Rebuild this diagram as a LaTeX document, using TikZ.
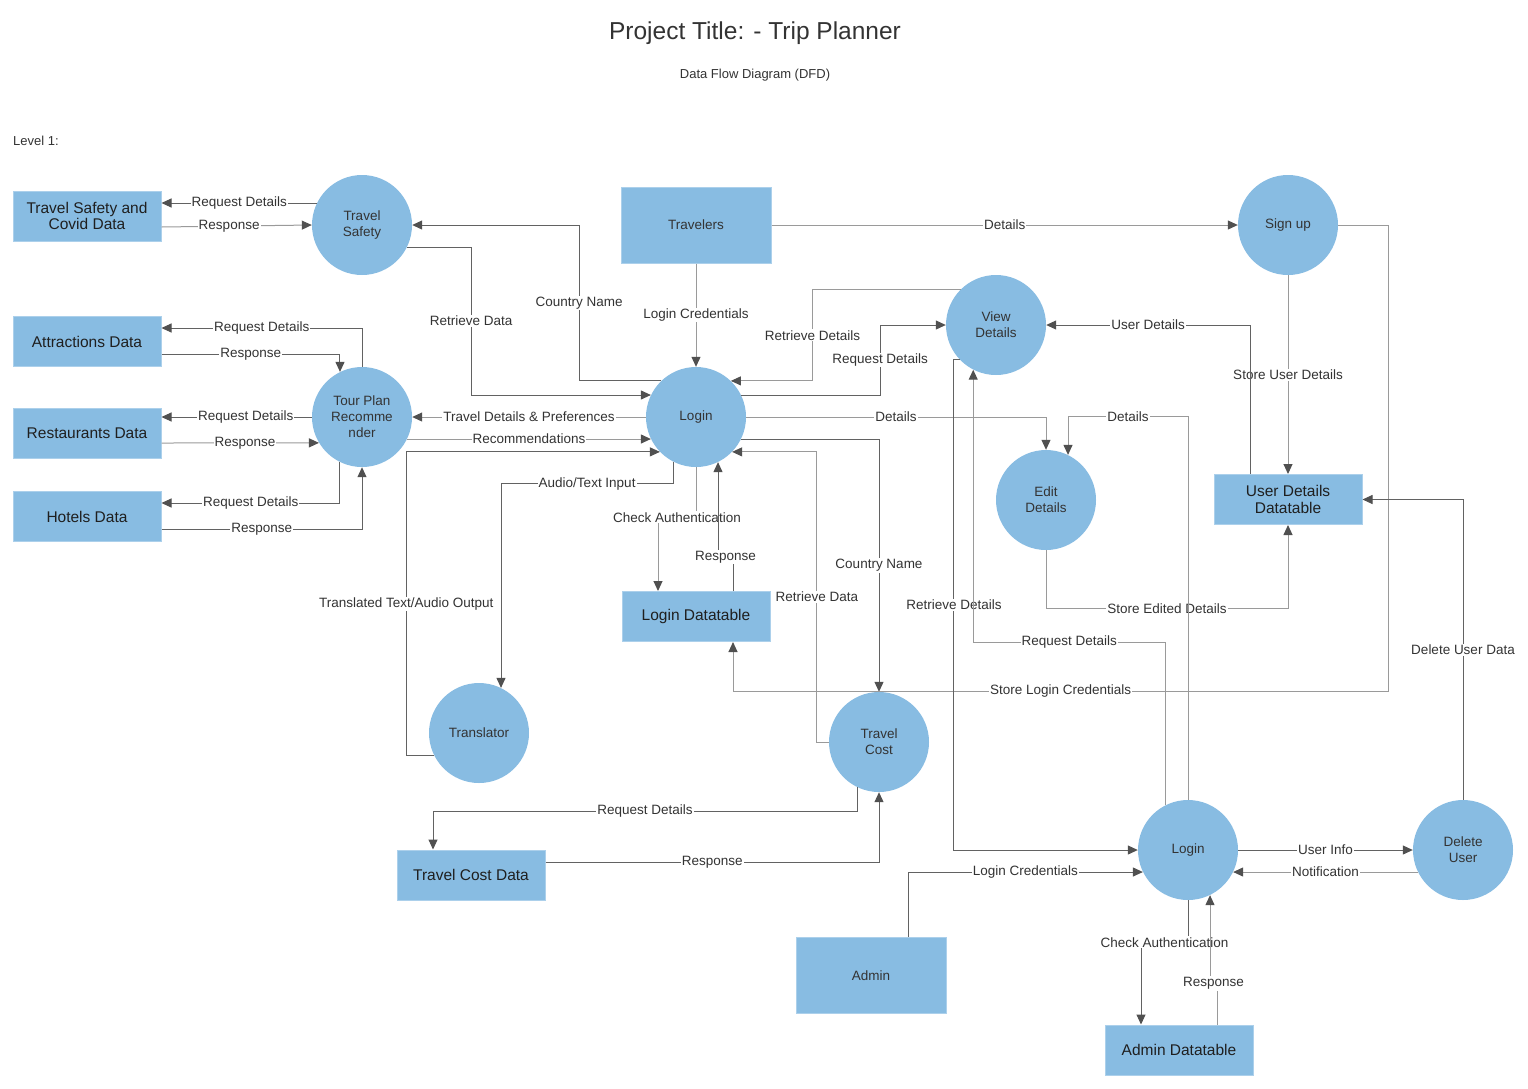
\documentclass[tikz,border=0pt]{standalone}
\usepackage{fontspec}
\setmainfont{Liberation Sans}
\usepackage{xcolor}
\usepackage{tikz}
\usetikzlibrary{positioning, arrows.meta, calc}

\definecolor{procblue}{HTML}{88BCE2}
\definecolor{edgedark}{HTML}{626262}
\definecolor{edgelight}{HTML}{9A9A9A}
\definecolor{tipgray}{HTML}{505050}
\definecolor{txtgray}{HTML}{333333}

\begin{document}
\begin{tikzpicture}[x=1pt, y=-1pt,
    proc/.style={fill=procblue, circle, minimum size=100pt, inner sep=0pt, align=center,
      text=txtgray, font=\fontsize{13.5}{16}\selectfont},
    store/.style={draw=procblue!70!white, line width=1pt, fill=procblue, minimum width=148pt,
      minimum height=50pt, inner sep=0pt, align=center, text=black!88, font=\fontsize{15.5}{16.5}\selectfont},
    entity/.style={draw=procblue!70!white, line width=1pt, fill=procblue, minimum width=150pt,
      minimum height=76pt, inner sep=0pt, text=txtgray, font=\fontsize{13.5}{16}\selectfont},
    lbl/.style={fill=white, inner sep=1pt, text=txtgray, font=\fontsize{13.5}{15}\selectfont},
    flow/.style={draw=edgedark, line width=1pt, -{Triangle[length=10pt, width=9pt, color=tipgray]}},
    flowlt/.style={flow, draw=edgelight}]

  \useasboundingbox (0,0) rectangle (1528,1088);

  \node[text=txtgray, font=\fontsize{24.5}{28}\selectfont] (title) at (755,33) {Project Title: - Trip Planner};
  \node[text=txtgray, font=\fontsize{13}{15}\selectfont] (subtitle) at (755,75) {Data Flow Diagram (DFD)};
  \node[anchor=west, inner sep=0pt, text=txtgray, font=\fontsize{13}{15}\selectfont] (level) at (13,141) {Level 1:};

  % data stores and entities
  \node[store] (tsdata) at (87,216) {Travel Safety and\\Covid Data};
  \node[store] (attr) at (87,341.5) {Attractions Data};
  \node[store] (rest) at (87,433) {Restaurants Data};
  \node[store] (hotels) at (87,516.5) {Hotels Data};
  \node[entity] (travelers) at (696,225) {Travelers};
  \node[store] (ldt) at (696,616.5) {Login Datatable};
  \node[store] (tcd) at (471,875) {Travel Cost Data};
  \node[store] (udd) at (1288,499.5) {User Details\\Datatable};
  \node[entity] (admin) at (871,975.5) {Admin};
  \node[store] (adt) at (1179,1050) {Admin Datatable};

  % processes
  \node[proc] (tsafe) at (362,225) {Travel\\Safety};
  \node[proc] (tour) at (362,417) {Tour Plan\\Recomme\\nder};
  \node[proc] (login) at (696,417) {Login};
  \node[proc] (signup) at (1288,225) {Sign up};
  \node[proc] (vd) at (996,325) {View\\Details};
  \node[proc] (edit) at (1046,500) {Edit\\Details};
  \node[proc] (trans) at (479,733) {Translator};
  \node[proc] (tcost) at (879,742) {Travel\\Cost};
  \node[proc] (alogin) at (1188,850) {Login};
  \node[proc] (deluser) at (1463,850) {Delete\\User};

  % left side data stores
  \draw[flow] (tsafe.154) -- node[lbl] {Request Details} (tsafe.154 -| tsdata.east);
  \draw[flowlt] ([yshift=-11pt]tsdata.east) -- node[lbl, pos=0.45] {Response} (tsafe.west);
  \draw[flow] (tour.north) |- node[lbl, pos=0.75] {Request Details} ([yshift=13.5pt]attr.east);
  \draw[flow] ([yshift=-12.5pt]attr.east) -| node[lbl, pos=0.25] {Response} (tour.116);
  \draw[flow] (tour.west) -- node[lbl, pos=0.44] {Request Details} (tour.west -| rest.east);
  \draw[flowlt] ([yshift=-10pt]rest.east) -- node[lbl, pos=0.53] {Response} (tour.211);
  \draw[flow] (tour.244) |- node[lbl, pos=0.75] {Request Details} ([yshift=13.5pt]hotels.east);
  \draw[flow] ([yshift=-12.5pt]hotels.east) -| node[lbl, pos=0.25] {Response} (tour.south);

  % main login
  \draw[flowlt] (travelers.south) -- node[lbl] {Login Credentials} (login.north);
  \draw[flow] (login.134) -- ++(-82,0) |- node[lbl, pos=0.25] {Country Name} (tsafe.east);
  \draw[flow] (tsafe.-26) -- ++(64,0) |- node[lbl, pos=0.25] {Retrieve Data} (login.154);
  \draw[flowlt] (login.west) -- node[lbl] {Travel Details \& Preferences} (tour.east);
  \draw[flowlt] (tour.-26) -- node[lbl] {Recommendations} (login.206);
  \draw[flow] (trans.207) -- ++(-28,0) |- node[lbl, pos=0.25] {Translated Text/Audio Output} (login.224);
  \draw[flow] (login.243) -- ++(0,22) -| node[lbl, pos=0.25] {Audio/Text Input} (trans.64);
  \draw[flowlt] (login.south) -- ++(0,50) -| node[lbl, pos=0.25] {Check Authentication} ([xshift=-38pt]ldt.north);
  \draw[flow] ([xshift=37pt]ldt.north) -- ++(0,-34) -| node[lbl, pos=0.25] {Response} (login.-64);
  \draw[flowlt] (vd.135) -- ++(-148,0) |- node[lbl, pos=0.25] {Retrieve Details} (login.46);
  \draw[flow] (login.26) -- ++(139,0) |- node[lbl, pos=0.25] {Request Details} (vd.west);
  \draw[flowlt] (login.east) -| node[lbl, pos=0.25] {Details} (edit.north);
  \draw[flow] (login.-26) -| node[lbl, pos=0.75] {Country Name} (tcost.north);
  \draw[flowlt] (tcost.west) -- ++(-12,0) |- node[lbl, pos=0.25] {Retrieve Data} (login.-44);
  \draw[flow] (tcost.244) -- ++(0,24) -| node[lbl, pos=0.25] {Request Details} ([xshift=-38pt]tcd.north);
  \draw[flow] ([yshift=13pt]tcd.east) -| node[lbl, pos=0.25] {Response} (tcost.south);

  % sign up and user details
  \draw[flowlt] (travelers.east) -- node[lbl] {Details} (signup.west);
  \draw[flowlt] (signup.south) -- node[lbl] {Store User Details} (udd.north);
  \draw[flow] ([xshift=-38pt]udd.north) |- node[lbl, pos=0.75] {User Details} (vd.east);
  \draw[flowlt] (signup.east) -- ++(50,0) -- ++(0,466) -| node[lbl, pos=0.25] {Store Login Credentials} ([xshift=37pt]ldt.south);
  \draw[flowlt] (edit.south) -- ++(0,58) -| node[lbl, pos=0.25] {Store Edited Details} (udd.south);

  % admin side
  \draw[flow] (vd.224) -- ++(-6,0) |- node[lbl, pos=0.25] {Retrieve Details} (alogin.west);
  \draw[flowlt] (alogin.117) -- ++(0,-163) -| node[lbl, pos=0.25] {Request Details} (vd.243);
  \draw[flowlt] (alogin.north) -- ++(0,-383) -| node[lbl, pos=0.25] {Details} (edit.64);
  \draw[flow] ([xshift=37pt]admin.north) |- node[lbl, pos=0.75] {Login Credentials} (alogin.206);
  \draw[flow] (alogin.south) -- ++(0,42) -| node[lbl, pos=0.25] {Check Authentication} ([xshift=-38pt]adt.north);
  \draw[flowlt] ([xshift=38pt]adt.north) -- ++(0,-41) -| node[lbl, pos=0.25] {Response} (alogin.-64);
  \draw[flow] (alogin.east) -- node[lbl] {User Info} (deluser.west);
  \draw[flowlt] (deluser.206) -- node[lbl] {Notification} (alogin.-26);
  \draw[flow] (deluser.north) |- node[lbl, pos=0.25] {Delete User Data} (udd.east);
\end{tikzpicture}
\end{document}
